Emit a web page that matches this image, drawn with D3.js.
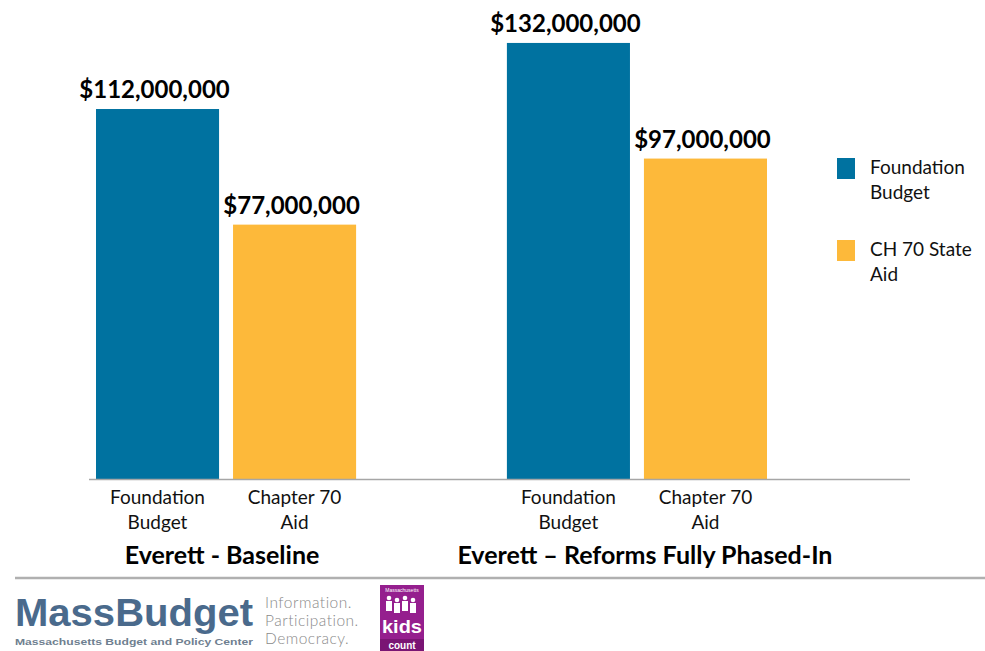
<!DOCTYPE html>
<html lang="en">
<head>
    <meta charset="UTF-8">
    <title>Everett Foundation Budget vs Chapter 70 Aid</title>
    <script src="https://d3js.org/d3.v7.min.js"></script>
    <style>
        body { margin: 0; background: #fff; }
        svg { display: block; font-family: Lato, "Open Sans", sans-serif; }
        .value { font-size: 24px; font-weight: bold; fill: #000; text-anchor: middle; }
        .tick-label { font-size: 19px; fill: #111; text-anchor: middle; }
        .group-label { font-size: 25px; font-weight: bold; fill: #000; text-anchor: middle; }
        .legend-text { font-size: 19px; fill: #111; }
    </style>
</head>
<body>
<svg id="chart"></svg>
<script>
    // data
    const groups = ["Everett - Baseline", "Everett \u2013 Reforms Fully Phased-In"];
    const series = ["Foundation Budget", "CH 70 State Aid"];
    const foundationBudget = [112000000, 132000000];
    const stateAid = [77000000, 97000000];
    const tickLabels = [["Foundation", "Budget"], ["Chapter 70", "Aid"]];
    const legendLabels = [["Foundation", "Budget"], ["CH 70 State", "Aid"]];
    const colors = ["#0072A0", "#FDB93A"];

    const width = 985, height = 651;
    const baseY = 479;

    const svg = d3.select("#chart").attr("width", width).attr("height", height);

    const rows = [];
    groups.forEach((g, i) => {
        rows.push({ group: g, series: series[0], value: foundationBudget[i], idx: 0 });
        rows.push({ group: g, series: series[1], value: stateAid[i], idx: 1 });
    });

    const x0 = d3.scaleBand().domain(groups).range([96, 767]).paddingInner(0.367).paddingOuter(0);
    const x1 = d3.scaleBand().domain(series).range([0, x0.bandwidth()]).paddingInner(0.102).paddingOuter(0);
    const y = d3.scaleLinear().domain([0, 145000000]).range([baseY, 0]);
    const color = d3.scaleOrdinal().domain(series).range(colors);
    const fmt = d3.format("$,");

    // bars
    svg.selectAll(".bar")
        .data(rows)
        .enter()
        .append("rect")
        .attr("class", "bar")
        .attr("x", d => x0(d.group) + x1(d.series))
        .attr("y", d => y(d.value))
        .attr("width", x1.bandwidth())
        .attr("height", d => y(0) - y(d.value))
        .attr("fill", d => color(d.series));

    // value labels
    svg.selectAll(".value")
        .data(rows)
        .enter()
        .append("text")
        .attr("class", "value")
        .attr("x", d => x0(d.group) + x1(d.series) + x1.bandwidth() / 2 - 3)
        .attr("y", d => y(d.value) - 11)
        .text(d => fmt(d.value));

    // category axis line
    svg.append("line")
        .attr("x1", 89).attr("x2", 910)
        .attr("y1", y(0) + 0.5).attr("y2", y(0) + 0.5)
        .attr("stroke", "#a6a6a6").attr("stroke-width", 1.5);

    // tick labels (two lines each)
    const ticks = svg.selectAll(".tick-label")
        .data(rows)
        .enter()
        .append("text")
        .attr("class", "tick-label")
        .attr("x", d => x0(d.group) + x1(d.series) + x1.bandwidth() / 2)
        .attr("y", y(0) + 25);
    ticks.each(function(d) {
        const t = d3.select(this);
        tickLabels[d.idx].forEach((line, k) => {
            t.append("tspan")
                .attr("x", t.attr("x"))
                .attr("dy", k === 0 ? 0 : 25)
                .text(line);
        });
    });

    // group labels
    svg.selectAll(".group-label")
        .data(groups)
        .enter()
        .append("text")
        .attr("class", "group-label")
        .attr("x", (d, i) => x0(d) + x0.bandwidth() / 2 + (i === 0 ? -4 : 8))
        .attr("y", 564)
        .text(d => d);

    // legend
    const legend = svg.selectAll(".legend")
        .data(series)
        .enter()
        .append("g")
        .attr("class", "legend")
        .attr("transform", (d, i) => `translate(837,${158 + i * 82})`);
    legend.append("rect")
        .attr("width", 18).attr("height", 21)
        .attr("fill", d => color(d));
    legend.append("text")
        .attr("class", "legend-text")
        .attr("x", 33)
        .attr("y", 16)
        .each(function(d, i) {
            const t = d3.select(this);
            legendLabels[i].forEach((line, k) => {
                t.append("tspan").attr("x", 33).attr("dy", k === 0 ? 0 : 25).text(line);
            });
        });

    // footer rule
    svg.append("line")
        .attr("x1", 15).attr("x2", width)
        .attr("y1", 578).attr("y2", 578)
        .attr("stroke", "#b0b0b0").attr("stroke-width", 2.5);

    // MassBudget logo
    const logo = svg.append("g").attr("font-family", "'Liberation Sans', Arial, sans-serif");
    logo.append("text")
        .attr("x", 15).attr("y", 626)
        .attr("textLength", 238).attr("lengthAdjust", "spacingAndGlyphs")
        .attr("font-size", 38).attr("font-weight", "bold")
        .attr("fill", "#4a6a8c")
        .text("MassBudget");
    logo.append("text")
        .attr("x", 15).attr("y", 645)
        .attr("textLength", 238).attr("lengthAdjust", "spacingAndGlyphs")
        .attr("font-size", 8.5).attr("font-weight", "bold")
        .attr("fill", "#6f7f90")
        .text("Massachusetts Budget and Policy Center");
    ["Information.", "Participation.", "Democracy."].forEach((s, i) => {
        logo.append("text")
            .attr("x", 265).attr("y", 608 + i * 18)
            .attr("font-family", "Lato, sans-serif")
            .attr("font-weight", 300)
            .attr("font-size", 15.5)
            .attr("letter-spacing", 0.5)
            .attr("fill", "#8a8a8a")
            .text(s);
    });

    // kids count badge
    const kc = svg.append("g").attr("transform", "translate(380,585)");
    kc.append("rect").attr("width", 44).attr("height", 66).attr("fill", "#951f8e");
    kc.append("text").attr("x", 22).attr("y", 7).attr("text-anchor", "middle")
        .attr("font-size", 5).attr("fill", "#fff").attr("font-family", "'Liberation Sans', sans-serif")
        .text("Massachusetts");
    [9, 17, 25, 33].forEach((cx, i) => {
        kc.append("circle").attr("cx", cx).attr("cy", 13 + (i % 2) * 2).attr("r", 2.3).attr("fill", "#fff");
        kc.append("rect").attr("x", cx - 3).attr("y", 16 + (i % 2) * 2).attr("width", 6).attr("height", 10).attr("fill", "#fff");
    });
    kc.append("text").attr("x", 22).attr("y", 48).attr("text-anchor", "middle")
        .attr("font-size", 18).attr("font-weight", "bold").attr("fill", "#fff")
        .attr("font-family", "'Liberation Sans', sans-serif")
        .attr("textLength", 40).attr("lengthAdjust", "spacingAndGlyphs")
        .text("kids");
    kc.append("rect").attr("y", 54).attr("width", 44).attr("height", 12).attr("fill", "#7a1574");
    kc.append("text").attr("x", 22).attr("y", 64).attr("text-anchor", "middle")
        .attr("font-size", 10).attr("font-weight", "bold").attr("fill", "#fff")
        .attr("font-family", "'Liberation Sans', sans-serif")
        .text("count");
</script>
</body>
</html>
